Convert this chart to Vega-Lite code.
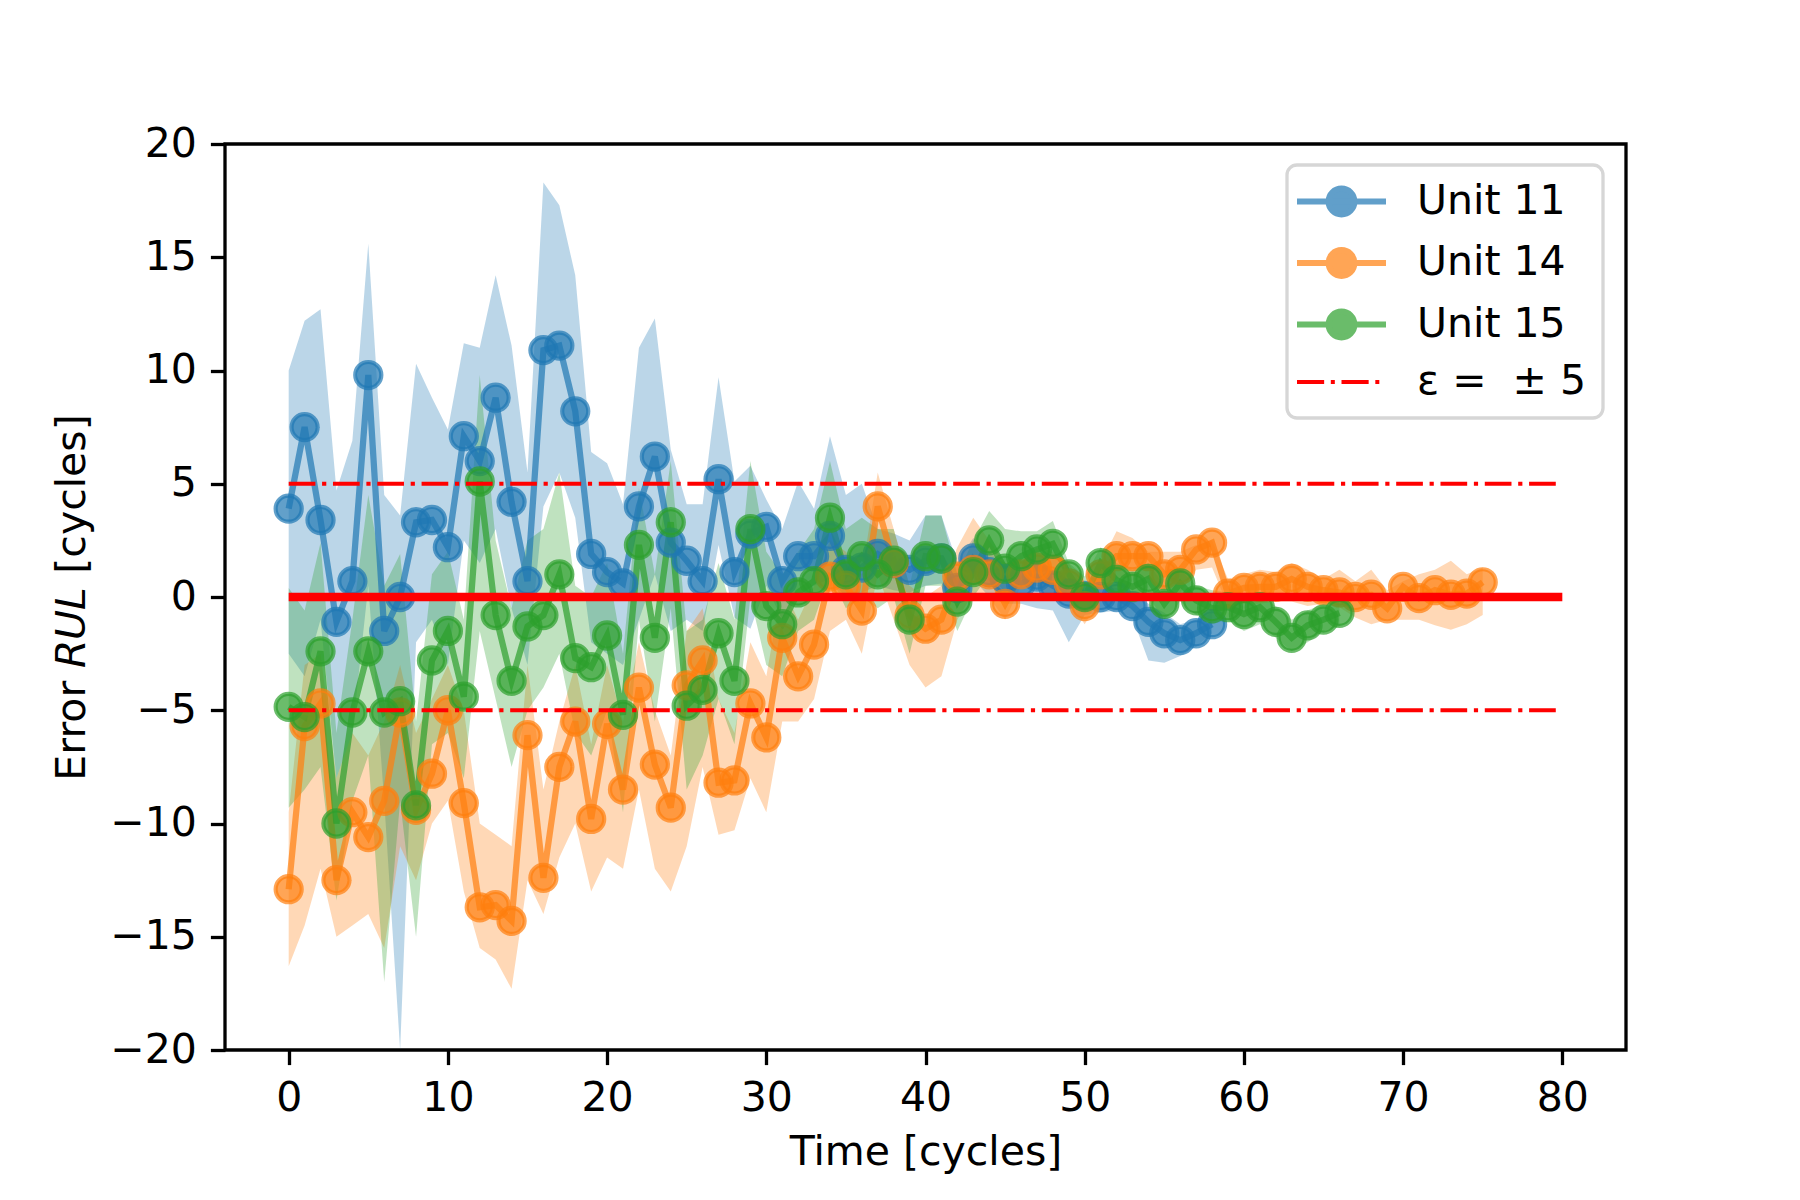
{
  "$schema": "https://vega.github.io/schema/vega-lite/v6.json",
  "autosize": {"type": "none"},
  "width": 1401,
  "height": 906,
  "padding": {"left": 225, "top": 144, "right": 174, "bottom": 150},
  "background": "white",
  "config": {
    "font": "DejaVu Sans",
    "view": {"stroke": "black", "strokeWidth": 3.3},
    "legend": {"strokeWidth": 3.3},
    "axis": {
      "domain": false,
      "grid": false,
      "ticks": true,
      "tickColor": "black",
      "tickWidth": 3.3,
      "tickSize": 14.6,
      "labelPadding": 14,
      "labelFont": "DejaVu Sans",
      "labelFontSize": 41,
      "labelColor": "black",
      "titleFont": "DejaVu Sans",
      "titleFontSize": 41,
      "titleFontWeight": "normal",
      "titleColor": "black"
    }
  },
  "datasets": {
    "series": [
      {"unit": "Unit 11", "t": 0, "err": 3.9, "lo": -2.5, "hi": 10.0},
      {"unit": "Unit 11", "t": 1, "err": 7.5, "lo": -3.5, "hi": 12.2},
      {"unit": "Unit 11", "t": 2, "err": 3.4, "lo": -1.0, "hi": 12.7},
      {"unit": "Unit 11", "t": 3, "err": -1.1, "lo": -8.0, "hi": 4.7},
      {"unit": "Unit 11", "t": 4, "err": 0.7, "lo": -6.0, "hi": 6.9},
      {"unit": "Unit 11", "t": 5, "err": 9.8, "lo": 0.5, "hi": 15.6},
      {"unit": "Unit 11", "t": 6, "err": -1.5, "lo": -9.0, "hi": 4.5},
      {"unit": "Unit 11", "t": 7, "err": 0.0, "lo": -20.0, "hi": 3.6},
      {"unit": "Unit 11", "t": 8, "err": 3.3, "lo": -2.0, "hi": 10.3},
      {"unit": "Unit 11", "t": 9, "err": 3.4, "lo": -1.0, "hi": 8.8},
      {"unit": "Unit 11", "t": 10, "err": 2.2, "lo": -3.0, "hi": 7.4},
      {"unit": "Unit 11", "t": 11, "err": 7.1, "lo": 2.5, "hi": 11.2},
      {"unit": "Unit 11", "t": 12, "err": 6.0, "lo": 1.5, "hi": 11.0},
      {"unit": "Unit 11", "t": 13, "err": 8.8, "lo": 3.0, "hi": 14.2},
      {"unit": "Unit 11", "t": 14, "err": 4.2, "lo": -0.5, "hi": 11.1},
      {"unit": "Unit 11", "t": 15, "err": 0.7, "lo": -3.0, "hi": 5.5},
      {"unit": "Unit 11", "t": 16, "err": 10.9, "lo": 4.0, "hi": 18.3},
      {"unit": "Unit 11", "t": 17, "err": 11.1, "lo": 5.5, "hi": 17.3},
      {"unit": "Unit 11", "t": 18, "err": 8.2, "lo": 3.5, "hi": 14.2},
      {"unit": "Unit 11", "t": 19, "err": 1.9, "lo": -2.0, "hi": 6.4},
      {"unit": "Unit 11", "t": 20, "err": 1.1, "lo": -2.5, "hi": 5.9},
      {"unit": "Unit 11", "t": 21, "err": 0.6, "lo": -3.0, "hi": 4.1},
      {"unit": "Unit 11", "t": 22, "err": 4.0, "lo": -1.0, "hi": 11.0},
      {"unit": "Unit 11", "t": 23, "err": 6.2, "lo": 1.0, "hi": 12.3},
      {"unit": "Unit 11", "t": 24, "err": 2.4, "lo": -1.5, "hi": 6.5},
      {"unit": "Unit 11", "t": 25, "err": 1.6, "lo": -1.0, "hi": 4.1},
      {"unit": "Unit 11", "t": 26, "err": 0.7, "lo": -1.5, "hi": 4.1},
      {"unit": "Unit 11", "t": 27, "err": 5.2, "lo": 2.3, "hi": 9.7},
      {"unit": "Unit 11", "t": 28, "err": 1.1, "lo": -0.9, "hi": 5.1},
      {"unit": "Unit 11", "t": 29, "err": 2.8, "lo": -1.4, "hi": 5.8},
      {"unit": "Unit 11", "t": 30, "err": 3.1, "lo": 0.5, "hi": 4.3},
      {"unit": "Unit 11", "t": 31, "err": 0.7, "lo": -1.0, "hi": 3.0},
      {"unit": "Unit 11", "t": 32, "err": 1.8, "lo": 0.0, "hi": 5.1},
      {"unit": "Unit 11", "t": 33, "err": 1.8, "lo": 0.5, "hi": 3.9},
      {"unit": "Unit 11", "t": 34, "err": 2.7, "lo": 0.8, "hi": 7.1},
      {"unit": "Unit 11", "t": 35, "err": 1.2, "lo": 0.0, "hi": 4.5},
      {"unit": "Unit 11", "t": 36, "err": 1.3, "lo": 0.2, "hi": 5.0},
      {"unit": "Unit 11", "t": 37, "err": 1.9, "lo": 0.5, "hi": 3.0},
      {"unit": "Unit 11", "t": 38, "err": 1.5, "lo": 0.3, "hi": 2.8},
      {"unit": "Unit 11", "t": 39, "err": 1.2, "lo": 0.2, "hi": 2.5},
      {"unit": "Unit 11", "t": 40, "err": 1.6, "lo": 0.5, "hi": 3.6},
      {"unit": "Unit 11", "t": 41, "err": 1.7, "lo": 0.6, "hi": 3.6},
      {"unit": "Unit 11", "t": 42, "err": 0.4, "lo": -0.5, "hi": 1.5},
      {"unit": "Unit 11", "t": 43, "err": 1.7, "lo": 0.8, "hi": 2.6},
      {"unit": "Unit 11", "t": 44, "err": 1.1, "lo": 0.0, "hi": 2.0},
      {"unit": "Unit 11", "t": 45, "err": 0.8, "lo": -0.3, "hi": 1.5},
      {"unit": "Unit 11", "t": 46, "err": 0.6, "lo": -0.3, "hi": 1.3},
      {"unit": "Unit 11", "t": 47, "err": 0.9, "lo": -0.5, "hi": 1.6},
      {"unit": "Unit 11", "t": 48, "err": 0.5, "lo": -0.6, "hi": 1.2},
      {"unit": "Unit 11", "t": 49, "err": 0.15, "lo": -2.0, "hi": 0.8},
      {"unit": "Unit 11", "t": 50, "err": 0.05, "lo": -0.8, "hi": 0.6},
      {"unit": "Unit 11", "t": 51, "err": 0.0, "lo": -0.7, "hi": 0.5},
      {"unit": "Unit 11", "t": 52, "err": 0.0, "lo": -0.6, "hi": 0.4},
      {"unit": "Unit 11", "t": 53, "err": -0.4, "lo": -0.9, "hi": 0.1},
      {"unit": "Unit 11", "t": 54, "err": -1.1, "lo": -2.8, "hi": -0.3},
      {"unit": "Unit 11", "t": 55, "err": -1.6, "lo": -2.9, "hi": -0.7},
      {"unit": "Unit 11", "t": 56, "err": -1.9, "lo": -2.6, "hi": -1.2},
      {"unit": "Unit 11", "t": 57, "err": -1.6, "lo": -2.2, "hi": -1.0},
      {"unit": "Unit 11", "t": 58, "err": -1.2, "lo": -1.6, "hi": -0.7},

      {"unit": "Unit 14", "t": 0, "err": -12.9, "lo": -16.3, "hi": -9.5},
      {"unit": "Unit 14", "t": 1, "err": -5.7, "lo": -14.5, "hi": -3.0},
      {"unit": "Unit 14", "t": 2, "err": -4.7, "lo": -12.0, "hi": -2.5},
      {"unit": "Unit 14", "t": 3, "err": -12.5, "lo": -15.0, "hi": -8.0},
      {"unit": "Unit 14", "t": 4, "err": -9.5, "lo": -14.5, "hi": -6.0},
      {"unit": "Unit 14", "t": 5, "err": -10.6, "lo": -14.0, "hi": -7.0},
      {"unit": "Unit 14", "t": 6, "err": -9.0, "lo": -15.5, "hi": -5.5},
      {"unit": "Unit 14", "t": 7, "err": -5.1, "lo": -11.0, "hi": -3.0},
      {"unit": "Unit 14", "t": 8, "err": -9.4, "lo": -12.5, "hi": -6.0},
      {"unit": "Unit 14", "t": 9, "err": -7.8, "lo": -10.0, "hi": -4.5},
      {"unit": "Unit 14", "t": 10, "err": -5.0, "lo": -9.0, "hi": -3.0},
      {"unit": "Unit 14", "t": 11, "err": -9.1, "lo": -13.0, "hi": -5.0},
      {"unit": "Unit 14", "t": 12, "err": -13.7, "lo": -15.5, "hi": -10.0},
      {"unit": "Unit 14", "t": 13, "err": -13.6, "lo": -16.0, "hi": -10.5},
      {"unit": "Unit 14", "t": 14, "err": -14.3, "lo": -17.3, "hi": -11.0},
      {"unit": "Unit 14", "t": 15, "err": -6.1, "lo": -12.5, "hi": -3.0},
      {"unit": "Unit 14", "t": 16, "err": -12.4, "lo": -14.0, "hi": -8.5},
      {"unit": "Unit 14", "t": 17, "err": -7.5, "lo": -11.5, "hi": -5.5},
      {"unit": "Unit 14", "t": 18, "err": -5.5, "lo": -10.0, "hi": -3.0},
      {"unit": "Unit 14", "t": 19, "err": -9.8, "lo": -13.0, "hi": -6.5},
      {"unit": "Unit 14", "t": 20, "err": -5.6, "lo": -11.5, "hi": -3.0},
      {"unit": "Unit 14", "t": 21, "err": -8.5, "lo": -12.0, "hi": -5.5},
      {"unit": "Unit 14", "t": 22, "err": -4.0, "lo": -8.5, "hi": -2.0},
      {"unit": "Unit 14", "t": 23, "err": -7.4, "lo": -12.0, "hi": -5.0},
      {"unit": "Unit 14", "t": 24, "err": -9.3, "lo": -13.0, "hi": -7.0},
      {"unit": "Unit 14", "t": 25, "err": -3.9, "lo": -11.0, "hi": -1.5},
      {"unit": "Unit 14", "t": 26, "err": -2.8, "lo": -7.5, "hi": -0.5},
      {"unit": "Unit 14", "t": 27, "err": -8.2, "lo": -10.5, "hi": -4.5},
      {"unit": "Unit 14", "t": 28, "err": -8.1, "lo": -10.3, "hi": -6.0},
      {"unit": "Unit 14", "t": 29, "err": -4.7, "lo": -8.0, "hi": -2.0},
      {"unit": "Unit 14", "t": 30, "err": -6.2, "lo": -9.5, "hi": -3.5},
      {"unit": "Unit 14", "t": 31, "err": -1.8, "lo": -5.5, "hi": 0.5},
      {"unit": "Unit 14", "t": 32, "err": -3.5, "lo": -5.5, "hi": -1.0},
      {"unit": "Unit 14", "t": 33, "err": -2.1, "lo": -4.5, "hi": 0.5},
      {"unit": "Unit 14", "t": 34, "err": 0.9, "lo": -1.5, "hi": 2.5},
      {"unit": "Unit 14", "t": 35, "err": 0.5, "lo": -1.0, "hi": 2.0},
      {"unit": "Unit 14", "t": 36, "err": -0.6, "lo": -2.5, "hi": 1.0},
      {"unit": "Unit 14", "t": 37, "err": 4.0, "lo": 1.0, "hi": 5.5},
      {"unit": "Unit 14", "t": 38, "err": 1.5, "lo": -1.0, "hi": 3.0},
      {"unit": "Unit 14", "t": 39, "err": -0.8, "lo": -3.0, "hi": 0.5},
      {"unit": "Unit 14", "t": 40, "err": -1.4, "lo": -4.0, "hi": 0.0},
      {"unit": "Unit 14", "t": 41, "err": -1.0, "lo": -3.5, "hi": 0.5},
      {"unit": "Unit 14", "t": 42, "err": 0.9, "lo": -1.0, "hi": 2.2},
      {"unit": "Unit 14", "t": 43, "err": 1.2, "lo": 0.2, "hi": 3.5},
      {"unit": "Unit 14", "t": 44, "err": 1.0, "lo": 0.0, "hi": 2.5},
      {"unit": "Unit 14", "t": 45, "err": -0.3, "lo": -1.0, "hi": 1.5},
      {"unit": "Unit 14", "t": 46, "err": 1.0, "lo": 0.5, "hi": 1.6},
      {"unit": "Unit 14", "t": 47, "err": 1.3, "lo": 0.5, "hi": 2.2},
      {"unit": "Unit 14", "t": 48, "err": 1.2, "lo": -0.1, "hi": 2.0},
      {"unit": "Unit 14", "t": 49, "err": 0.6, "lo": -0.2, "hi": 1.5},
      {"unit": "Unit 14", "t": 50, "err": -0.4, "lo": -1.2, "hi": 0.3},
      {"unit": "Unit 14", "t": 51, "err": 1.0, "lo": 0.0, "hi": 1.5},
      {"unit": "Unit 14", "t": 52, "err": 1.8, "lo": 0.8, "hi": 2.9},
      {"unit": "Unit 14", "t": 53, "err": 1.8, "lo": 0.9, "hi": 2.6},
      {"unit": "Unit 14", "t": 54, "err": 1.8, "lo": 0.8, "hi": 2.0},
      {"unit": "Unit 14", "t": 55, "err": 1.0, "lo": 0.1, "hi": 2.0},
      {"unit": "Unit 14", "t": 56, "err": 1.2, "lo": 0.2, "hi": 2.0},
      {"unit": "Unit 14", "t": 57, "err": 2.1, "lo": 1.2, "hi": 2.3},
      {"unit": "Unit 14", "t": 58, "err": 2.4, "lo": 1.3, "hi": 2.5},
      {"unit": "Unit 14", "t": 59, "err": 0.15, "lo": -0.4, "hi": 0.8},
      {"unit": "Unit 14", "t": 60, "err": 0.4, "lo": -0.3, "hi": 1.0},
      {"unit": "Unit 14", "t": 61, "err": 0.45, "lo": -0.3, "hi": 1.2},
      {"unit": "Unit 14", "t": 62, "err": 0.45, "lo": -0.2, "hi": 1.1},
      {"unit": "Unit 14", "t": 63, "err": 0.8, "lo": -0.2, "hi": 1.5},
      {"unit": "Unit 14", "t": 64, "err": 0.45, "lo": -0.4, "hi": 1.2},
      {"unit": "Unit 14", "t": 65, "err": 0.3, "lo": -0.3, "hi": 0.8},
      {"unit": "Unit 14", "t": 66, "err": 0.2, "lo": -0.45, "hi": 1.2},
      {"unit": "Unit 14", "t": 67, "err": 0.0, "lo": -0.9, "hi": 0.7},
      {"unit": "Unit 14", "t": 68, "err": 0.1, "lo": -1.2, "hi": 1.2},
      {"unit": "Unit 14", "t": 69, "err": -0.5, "lo": -1.0, "hi": 0.3},
      {"unit": "Unit 14", "t": 70, "err": 0.45, "lo": -1.0, "hi": 0.7},
      {"unit": "Unit 14", "t": 71, "err": -0.05, "lo": -1.0, "hi": 1.0},
      {"unit": "Unit 14", "t": 72, "err": 0.3, "lo": -1.25, "hi": 1.2},
      {"unit": "Unit 14", "t": 73, "err": 0.1, "lo": -1.45, "hi": 1.6},
      {"unit": "Unit 14", "t": 74, "err": 0.15, "lo": -1.2, "hi": 1.0},
      {"unit": "Unit 14", "t": 75, "err": 0.65, "lo": -0.8, "hi": 1.3},

      {"unit": "Unit 15", "t": 0, "err": -4.85, "lo": -9.3, "hi": 0.4},
      {"unit": "Unit 15", "t": 1, "err": -5.3, "lo": -8.5, "hi": -0.6},
      {"unit": "Unit 15", "t": 2, "err": -2.4, "lo": -7.5, "hi": 2.4},
      {"unit": "Unit 15", "t": 3, "err": -10.0, "lo": -13.4, "hi": -6.0},
      {"unit": "Unit 15", "t": 4, "err": -5.1, "lo": -9.0, "hi": -1.0},
      {"unit": "Unit 15", "t": 5, "err": -2.4, "lo": -7.0, "hi": 4.5},
      {"unit": "Unit 15", "t": 6, "err": -5.1, "lo": -17.0, "hi": 0.5},
      {"unit": "Unit 15", "t": 7, "err": -4.6, "lo": -9.0, "hi": 1.9},
      {"unit": "Unit 15", "t": 8, "err": -9.2, "lo": -15.0, "hi": -5.5},
      {"unit": "Unit 15", "t": 9, "err": -2.8, "lo": -6.5, "hi": 1.0},
      {"unit": "Unit 15", "t": 10, "err": -1.5, "lo": -6.0, "hi": 2.0},
      {"unit": "Unit 15", "t": 11, "err": -4.4, "lo": -8.0, "hi": -1.0},
      {"unit": "Unit 15", "t": 12, "err": 5.1, "lo": -1.5, "hi": 9.8},
      {"unit": "Unit 15", "t": 13, "err": -0.8, "lo": -4.5, "hi": 2.5},
      {"unit": "Unit 15", "t": 14, "err": -3.7, "lo": -7.5, "hi": -0.5},
      {"unit": "Unit 15", "t": 15, "err": -1.3, "lo": -5.0, "hi": 2.5},
      {"unit": "Unit 15", "t": 16, "err": -0.8, "lo": -4.0, "hi": 3.0},
      {"unit": "Unit 15", "t": 17, "err": 1.0, "lo": -2.5, "hi": 5.5},
      {"unit": "Unit 15", "t": 18, "err": -2.7, "lo": -6.0, "hi": 0.5},
      {"unit": "Unit 15", "t": 19, "err": -3.1, "lo": -7.0, "hi": 0.0},
      {"unit": "Unit 15", "t": 20, "err": -1.7, "lo": -5.0, "hi": 1.5},
      {"unit": "Unit 15", "t": 21, "err": -5.2, "lo": -9.5, "hi": -2.5},
      {"unit": "Unit 15", "t": 22, "err": 2.3, "lo": -1.0, "hi": 4.8},
      {"unit": "Unit 15", "t": 23, "err": -1.8, "lo": -5.5, "hi": 1.0},
      {"unit": "Unit 15", "t": 24, "err": 3.3, "lo": -0.5, "hi": 6.0},
      {"unit": "Unit 15", "t": 25, "err": -4.8, "lo": -8.5, "hi": -1.5},
      {"unit": "Unit 15", "t": 26, "err": -4.1, "lo": -7.0, "hi": -1.0},
      {"unit": "Unit 15", "t": 27, "err": -1.6, "lo": -4.5, "hi": 1.5},
      {"unit": "Unit 15", "t": 28, "err": -3.7, "lo": -6.5, "hi": -1.0},
      {"unit": "Unit 15", "t": 29, "err": 3.0, "lo": 0.0, "hi": 6.0},
      {"unit": "Unit 15", "t": 30, "err": -0.4, "lo": -3.0, "hi": 2.0},
      {"unit": "Unit 15", "t": 31, "err": -1.2, "lo": -3.5, "hi": 1.0},
      {"unit": "Unit 15", "t": 32, "err": 0.2, "lo": -1.5, "hi": 2.0},
      {"unit": "Unit 15", "t": 33, "err": 0.7, "lo": -1.0, "hi": 3.0},
      {"unit": "Unit 15", "t": 34, "err": 3.5, "lo": 1.0, "hi": 6.0},
      {"unit": "Unit 15", "t": 35, "err": 1.0, "lo": -0.5, "hi": 3.0},
      {"unit": "Unit 15", "t": 36, "err": 1.8, "lo": 0.0, "hi": 3.5},
      {"unit": "Unit 15", "t": 37, "err": 1.0, "lo": -0.5, "hi": 3.0},
      {"unit": "Unit 15", "t": 38, "err": 1.6, "lo": 0.0, "hi": 3.0},
      {"unit": "Unit 15", "t": 39, "err": -1.0, "lo": -2.5, "hi": 0.5},
      {"unit": "Unit 15", "t": 40, "err": 1.8, "lo": 0.5, "hi": 3.6},
      {"unit": "Unit 15", "t": 41, "err": 1.7, "lo": 0.5, "hi": 3.6},
      {"unit": "Unit 15", "t": 42, "err": -0.2, "lo": -1.5, "hi": 1.0},
      {"unit": "Unit 15", "t": 43, "err": 1.1, "lo": 0.0, "hi": 2.5},
      {"unit": "Unit 15", "t": 44, "err": 2.5, "lo": 1.0, "hi": 3.8},
      {"unit": "Unit 15", "t": 45, "err": 1.25, "lo": 0.2, "hi": 3.0},
      {"unit": "Unit 15", "t": 46, "err": 1.8, "lo": 0.8, "hi": 2.9},
      {"unit": "Unit 15", "t": 47, "err": 2.1, "lo": 1.0, "hi": 2.9},
      {"unit": "Unit 15", "t": 48, "err": 2.35, "lo": 1.3, "hi": 3.35},
      {"unit": "Unit 15", "t": 49, "err": 1.0, "lo": 0.2, "hi": 1.5},
      {"unit": "Unit 15", "t": 50, "err": 0.0, "lo": -0.5, "hi": 0.9},
      {"unit": "Unit 15", "t": 51, "err": 1.5, "lo": 0.5, "hi": 2.2},
      {"unit": "Unit 15", "t": 52, "err": 0.75, "lo": 0.0, "hi": 1.5},
      {"unit": "Unit 15", "t": 53, "err": 0.45, "lo": -0.3, "hi": 1.2},
      {"unit": "Unit 15", "t": 54, "err": 0.8, "lo": 0.0, "hi": 1.5},
      {"unit": "Unit 15", "t": 55, "err": -0.3, "lo": -1.0, "hi": 0.5},
      {"unit": "Unit 15", "t": 56, "err": 0.6, "lo": -0.2, "hi": 1.2},
      {"unit": "Unit 15", "t": 57, "err": -0.15, "lo": -0.8, "hi": 0.5},
      {"unit": "Unit 15", "t": 58, "err": -0.5, "lo": -1.2, "hi": 0.3},
      {"unit": "Unit 15", "t": 59, "err": -0.45, "lo": -1.0, "hi": 0.2},
      {"unit": "Unit 15", "t": 60, "err": -0.75, "lo": -1.5, "hi": -0.2},
      {"unit": "Unit 15", "t": 61, "err": -0.45, "lo": -1.2, "hi": 0.0},
      {"unit": "Unit 15", "t": 62, "err": -1.1, "lo": -1.8, "hi": -0.4},
      {"unit": "Unit 15", "t": 63, "err": -1.8, "lo": -2.4, "hi": -1.0},
      {"unit": "Unit 15", "t": 64, "err": -1.25, "lo": -2.0, "hi": -0.6},
      {"unit": "Unit 15", "t": 65, "err": -1.0, "lo": -1.5, "hi": -0.3},
      {"unit": "Unit 15", "t": 66, "err": -0.7, "lo": -1.3, "hi": -0.2}
    ],
    "bounds": [
      {"start": 0, "end": 80, "level": 5},
      {"start": 0, "end": 80, "level": -5}
    ],
    "zero": [
      {"start": 0, "end": 80, "level": 0}
    ]
  },
  "encoding": {
    "x": {
      "type": "quantitative",
      "scale": {"domain": [-4, 84], "nice": false, "zero": false},
      "axis": {"title": "Time [cycles]", "values": [0, 10, 20, 30, 40, 50, 60, 70, 80], "titlePadding": 14}
    },
    "y": {
      "type": "quantitative",
      "scale": {"domain": [-20, 20], "nice": false},
      "axis": {"title": "Error 𝘙𝘜𝘓 [cycles]", "values": [-20, -15, -10, -5, 0, 5, 10, 15, 20], "titlePadding": 16}
    },
    "color": {
      "field": "unit",
      "type": "nominal",
      "scale": {
        "domain": ["Unit 11", "Unit 14", "Unit 15", "ε = \u00a0± 5"],
        "range": ["#1f77b4", "#ff7f0e", "#2ca02c", "#ff0000"]
      },
      "legend": {
        "title": null,
        "orient": "none",
        "legendX": 1062,
        "legendY": 21,
        "padding": 16,
        "cornerRadius": 10,
        "strokeColor": "#d6d6d6",
        "fillColor": "white",
        "labelFont": "DejaVu Sans",
        "labelFontSize": 41,
        "labelColor": "black",
        "labelLimit": 600,
        "labelOffset": 55,
        "symbolOffset": 18,
        "rowPadding": 10.5,
        "symbolSize": 7921,
        "symbolType": {"expr": "datum.value == 'ε = \u00a0± 5' ? 'M-1,0L-0.39,0M-0.24,0L-0.15,0M0,0L0.61,0M0.76,0L0.85,0' : 'M-1,0L1,0M0.29,0A0.29,0.29,0,1,1,-0.29,0A0.29,0.29,0,1,1,0.29,0Z'"},
        "symbolFillColor": {"expr": "scale('color', datum.value)"},
        "symbolStrokeColor": {"expr": "scale('color', datum.value)"},
        "symbolStrokeWidth": {"expr": "datum.value == 'ε = \u00a0± 5' ? 4.2 : 6"},
        "symbolOpacity": {"expr": "datum.value == 'ε = \u00a0± 5' ? 1 : 0.7"}
      }
    }
  },
  "layer": [
    {
      "data": {"name": "series"},
      "mark": {"type": "area", "opacity": 0.3},
      "encoding": {
        "x": {"field": "t", "type": "quantitative"},
        "y": {"field": "lo", "type": "quantitative"},
        "y2": {"field": "hi"}
      }
    },
    {
      "data": {"name": "series"},
      "mark": {"type": "line", "strokeWidth": 6.25, "opacity": 0.7},
      "encoding": {
        "x": {"field": "t", "type": "quantitative"},
        "y": {"field": "err", "type": "quantitative"}
      }
    },
    {
      "data": {"name": "series"},
      "mark": {"type": "point", "filled": true, "size": 680, "fillOpacity": 0.7, "strokeOpacity": 0.7, "strokeWidth": 4.2},
      "encoding": {
        "x": {"field": "t", "type": "quantitative"},
        "y": {"field": "err", "type": "quantitative"},
        "stroke": {"field": "unit", "type": "nominal", "scale": {"domain": ["Unit 11", "Unit 14", "Unit 15", "ε = \u00a0± 5"], "range": ["#1f77b4", "#ff7f0e", "#2ca02c", "#ff0000"]}, "legend": null}
      }
    },
    {
      "data": {"name": "bounds"},
      "mark": {"type": "rule", "strokeWidth": 4.2, "strokeDash": [26.7, 6.7, 4.2, 6.7]},
      "encoding": {
        "x": {"field": "start", "type": "quantitative"},
        "x2": {"field": "end"},
        "y": {"field": "level", "type": "quantitative"},
        "detail": {"field": "level"},
        "color": {"value": "#ff0000"}
      }
    },
    {
      "data": {"name": "zero"},
      "mark": {"type": "rule", "strokeWidth": 8.3},
      "encoding": {
        "x": {"field": "start", "type": "quantitative"},
        "x2": {"field": "end"},
        "y": {"field": "level", "type": "quantitative"},
        "color": {"value": "#ff0000"}
      }
    }
  ]
}
